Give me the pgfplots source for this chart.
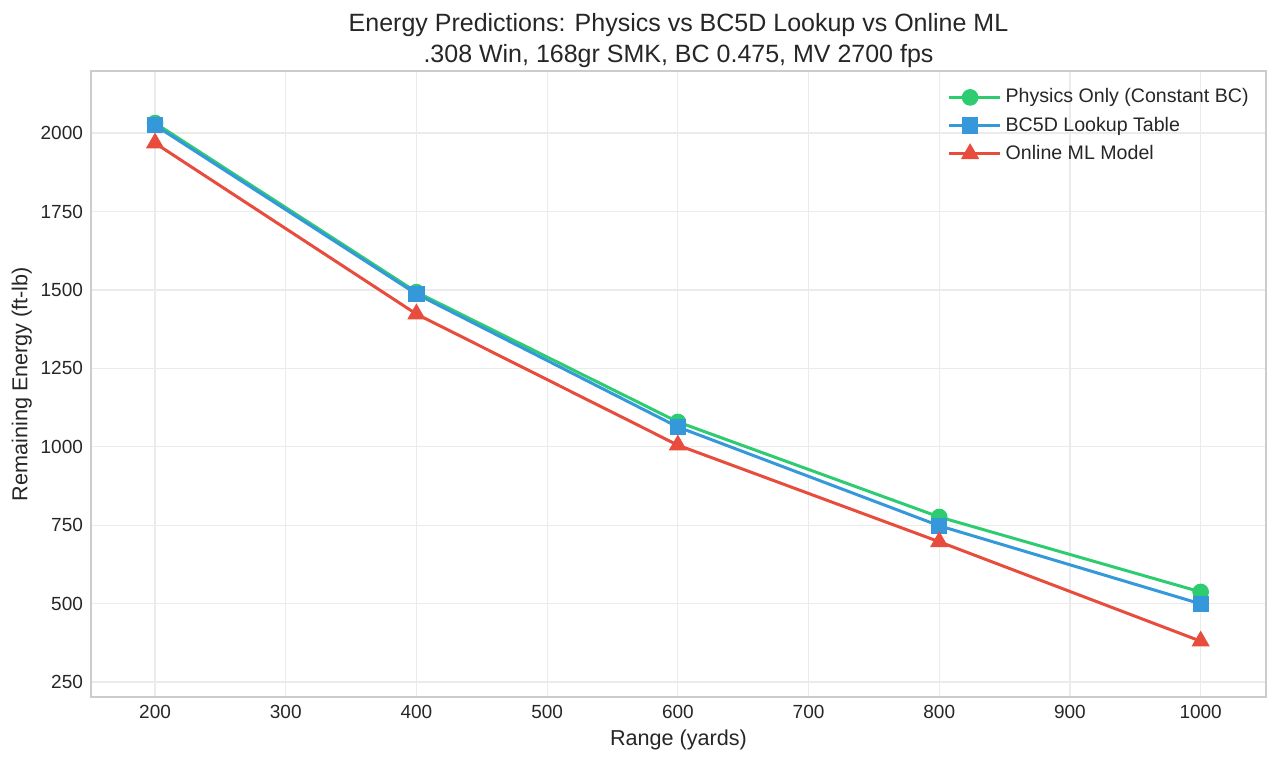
\documentclass[border=0pt]{standalone}
\usepackage{fontspec}
\setmainfont{Liberation Sans}
\usepackage{pgfplots}
\pgfplotsset{compat=1.18}

\definecolor{cphys}{HTML}{2ECC71}
\definecolor{cbc}{HTML}{3498DB}
\definecolor{cml}{HTML}{E74C3C}
\definecolor{gridc}{HTML}{EBEBEB}
\definecolor{framec}{HTML}{CCCCCC}
\definecolor{textc}{HTML}{262626}

\begin{document}
\begin{tikzpicture}
\begin{axis}[
  scale only axis,
  width=587.5pt, height=313pt,
  xmin=151, xmax=1050,
  ymin=202, ymax=2198,
  xtick={200,300,...,1000},
  ytick={250,500,...,2000},
  /pgf/number format/assume math mode=true,
  /pgf/number format/1000 sep={},
  tick style={draw=none},
  ticklabel style={font=\fontsize{9.5}{11}\selectfont, text=textc},
  xticklabel style={yshift=-0.5pt},
  yticklabel style={xshift=-0.5pt},
  grid=major,
  major grid style={draw=gridc, line width=0.6pt},
  axis line style={draw=framec, line width=0.8pt},
  xlabel={Range (yards)},
  ylabel={Remaining Energy (ft-lb)},
  label style={font=\fontsize{10.8}{12}\selectfont, text=textc},
  xlabel style={yshift=1pt},
  ylabel style={yshift=-2.5pt},
  title={Energy Predictions: Physics vs BC5D Lookup vs Online ML\\.308 Win, 168gr SMK, BC 0.475, MV 2700 fps},
  title style={font=\fontsize{12.5}{15.3}\selectfont, text=textc, align=center, yshift=-7.8pt},
  legend style={at={(0.994,0.985)}, anchor=north east, draw=none, fill=none,
    font=\fontsize{9.8}{11}\selectfont, text=textc, row sep=1.5pt},
  legend cell align=left,
  legend image code/.code={
    \path (0cm,0cm) -- (0.74cm+4.5pt,0cm);
    \draw[#1, mark=none] (0cm,0cm) -- (0.74cm,0cm);
    \draw[#1, only marks] plot coordinates {(0.37cm,0cm)};
  },
  every axis plot/.append style={line width=1.5pt},
]
\addplot[cphys, mark=*, mark size=3.9pt, mark options={line width=0.5pt}] coordinates {
  (200,2032) (400,1493) (600,1079) (800,776) (1000,537)
};
\addlegendentry{Physics Only (Constant BC)}
\addplot[cbc, mark=square*, mark size=3.8pt, mark options={line width=0.5pt}] coordinates {
  (200,2025) (400,1487) (600,1063) (800,748) (1000,499)
};
\addlegendentry{BC5D Lookup Table}
\addplot[cml, mark=triangle*, mark size=4.8pt, mark options={line width=0.5pt}] coordinates {
  (200,1968) (400,1423) (600,1005) (800,697) (1000,380)
};
\addlegendentry{Online ML Model}
\end{axis}
\path (current axis.south west)+(-45.5pt,-32pt) coordinate (bbl);
\path (current axis.north east)+(7pt,35.5pt) coordinate (bbr);
\useasboundingbox (bbl) rectangle (bbr);
\end{tikzpicture}
\end{document}
